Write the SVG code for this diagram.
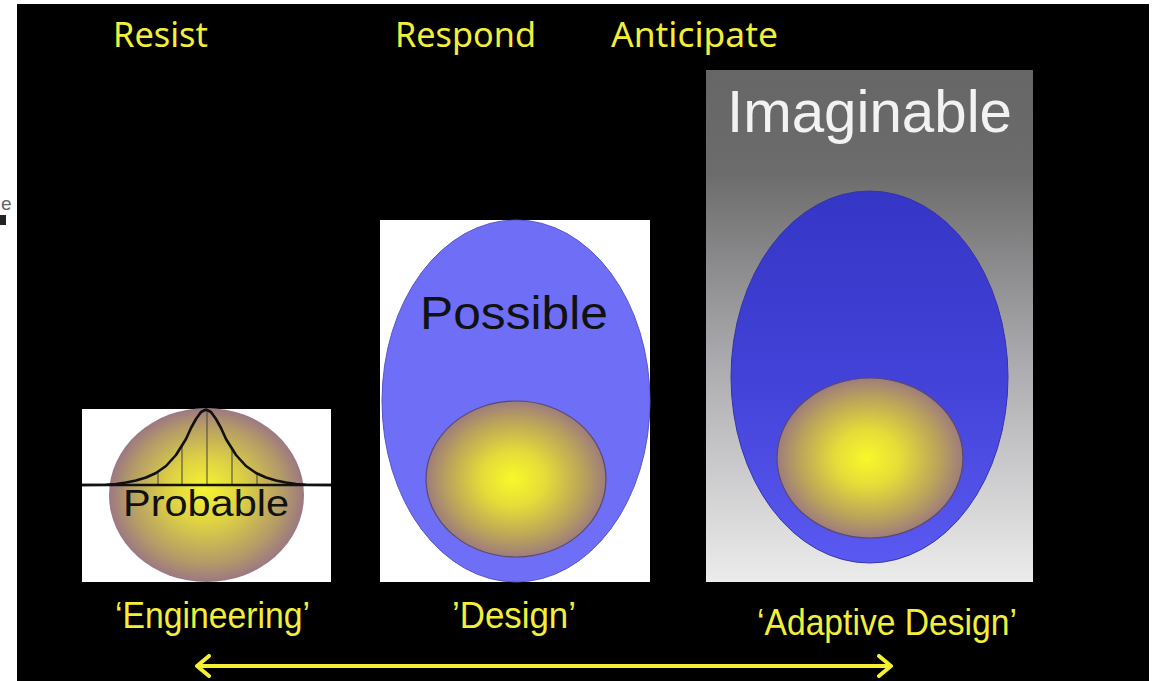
<svg xmlns="http://www.w3.org/2000/svg" width="1158" height="681" viewBox="0 0 1158 681">
<style>
.top{font-family:"Noto Sans","Open Sans",sans-serif;font-size:35px;fill:#f2ef3a}
.bot{font-family:"Liberation Sans",Arial,sans-serif;font-size:36px;fill:#f2ef3a}
.lbl{font-family:"Liberation Sans",Arial,sans-serif}
.tick{stroke:#4a4a3a;stroke-width:1.3;opacity:0.8}
</style>
<defs>
<radialGradient id="yel" cx="0.5" cy="0.5" r="0.5" fx="0.48" fy="0.5">
<stop offset="0" stop-color="#f8f82a"/>
<stop offset="0.35" stop-color="#e6dc38"/>
<stop offset="0.75" stop-color="#bba45a"/>
<stop offset="1" stop-color="#9e7c7c"/>
</radialGradient>
<radialGradient id="yelP" cx="0.5" cy="0.5" r="0.5" fx="0.49" fy="0.46">
<stop offset="0" stop-color="#f6f530"/>
<stop offset="0.4" stop-color="#dccf45"/>
<stop offset="0.8" stop-color="#b39a68"/>
<stop offset="1" stop-color="#9c7882"/>
</radialGradient>
<linearGradient id="gray" x1="0" y1="0" x2="0" y2="1">
<stop offset="0" stop-color="#666"/>
<stop offset="0.2" stop-color="#6c6c6c"/>
<stop offset="0.55" stop-color="#a8a8ac"/>
<stop offset="1" stop-color="#ececec"/>
</linearGradient>
<linearGradient id="blueI" x1="0" y1="0" x2="0" y2="1">
<stop offset="0" stop-color="#3535c6"/>
<stop offset="0.5" stop-color="#4242d8"/>
<stop offset="1" stop-color="#5a5af2"/>
</linearGradient>
<marker id="chev" viewBox="0 0 20 24" refX="17" refY="12" markerWidth="5" markerHeight="6" orient="auto-start-reverse" markerUnits="strokeWidth">
<polyline points="5,2 17,12 5,22" fill="none" stroke="#f5f032" stroke-width="4" stroke-linecap="round" stroke-linejoin="round"/>
</marker>
</defs>
<rect x="0" y="0" width="1158" height="681" fill="#ffffff"/>
<rect x="17" y="4" width="1132" height="677" fill="#000000"/>
<g id="edge-fragment">
<text x="1" y="210" class="lbl" font-size="19" fill="#666">e</text>
<rect x="0" y="215" width="6" height="10" fill="#222"/>
</g>
<g id="labels-top">
<text x="113" y="47" class="top" textLength="95" lengthAdjust="spacingAndGlyphs">Resist</text>
<text x="395" y="47" class="top" textLength="141" lengthAdjust="spacingAndGlyphs">Respond</text>
<text x="611" y="47" class="top" textLength="167" lengthAdjust="spacingAndGlyphs">Anticipate</text>
</g>
<g id="probable">
<rect x="82" y="409" width="249" height="173" fill="#ffffff"/>
<ellipse cx="206.5" cy="495" rx="97.5" ry="87" fill="url(#yelP)"/>
<line x1="158" y1="485" x2="158" y2="472" class="tick"/>
<line x1="182" y1="485" x2="182" y2="446" class="tick"/>
<line x1="207" y1="485" x2="207" y2="410" class="tick"/>
<line x1="232" y1="485" x2="232" y2="448" class="tick"/>
<line x1="257" y1="485" x2="257" y2="473" class="tick"/>
<line x1="82" y1="485" x2="331" y2="485" stroke="#111" stroke-width="2.6"/>
<polyline points="82,485 106,484.7 116,484 126,482.5 136,480.5 146,477.5 156,473 166,466 176,455 186,439 191,428 196,419 201,412 206,409.5 211,412 216,419 221,428 226,439 236,455 246,466 256,473 266,477.5 276,480.5 286,482.5 296,484 306,484.7 331,485" fill="none" stroke="#111" stroke-width="2.6" stroke-linejoin="round"/>
<text x="123" y="516" class="lbl" font-size="37" fill="#111" textLength="166" lengthAdjust="spacingAndGlyphs">Probable</text>
</g>
<g id="possible">
<rect x="380" y="220" width="270" height="362" fill="#ffffff"/>
<ellipse cx="516" cy="401" rx="134" ry="181" fill="#6e6ef6" stroke="#5656c8" stroke-width="1"/>
<text x="420" y="329" class="lbl" font-size="46" fill="#111" textLength="188" lengthAdjust="spacingAndGlyphs">Possible</text>
<ellipse cx="516" cy="479" rx="90" ry="78" fill="url(#yel)" stroke="#5a4a6a" stroke-width="1.2"/>
</g>
<g id="imaginable">
<rect x="706" y="70" width="327" height="512" fill="url(#gray)"/>
<text x="727" y="132" class="lbl" font-size="60" fill="#f2f2f2" textLength="285" lengthAdjust="spacingAndGlyphs">Imaginable</text>
<ellipse cx="869.5" cy="377" rx="138.5" ry="186" fill="url(#blueI)" stroke="#3434a8" stroke-width="1"/>
<ellipse cx="870" cy="458" rx="93" ry="80" fill="url(#yel)" stroke="#5a4a6a" stroke-width="1.2"/>
</g>
<g id="labels-bottom">
<text x="115" y="628" class="bot" textLength="195" lengthAdjust="spacingAndGlyphs">‘Engineering’</text>
<text x="452" y="628" class="bot" textLength="124" lengthAdjust="spacingAndGlyphs">’Design’</text>
<text x="757" y="635" class="bot" textLength="260" lengthAdjust="spacingAndGlyphs">‘Adaptive Design’</text>
</g>
<g id="connectors">
<line x1="197" y1="666" x2="891" y2="666" stroke="#f5f032" stroke-width="4" marker-start="url(#chev)" marker-end="url(#chev)"/>
</g>
</svg>
